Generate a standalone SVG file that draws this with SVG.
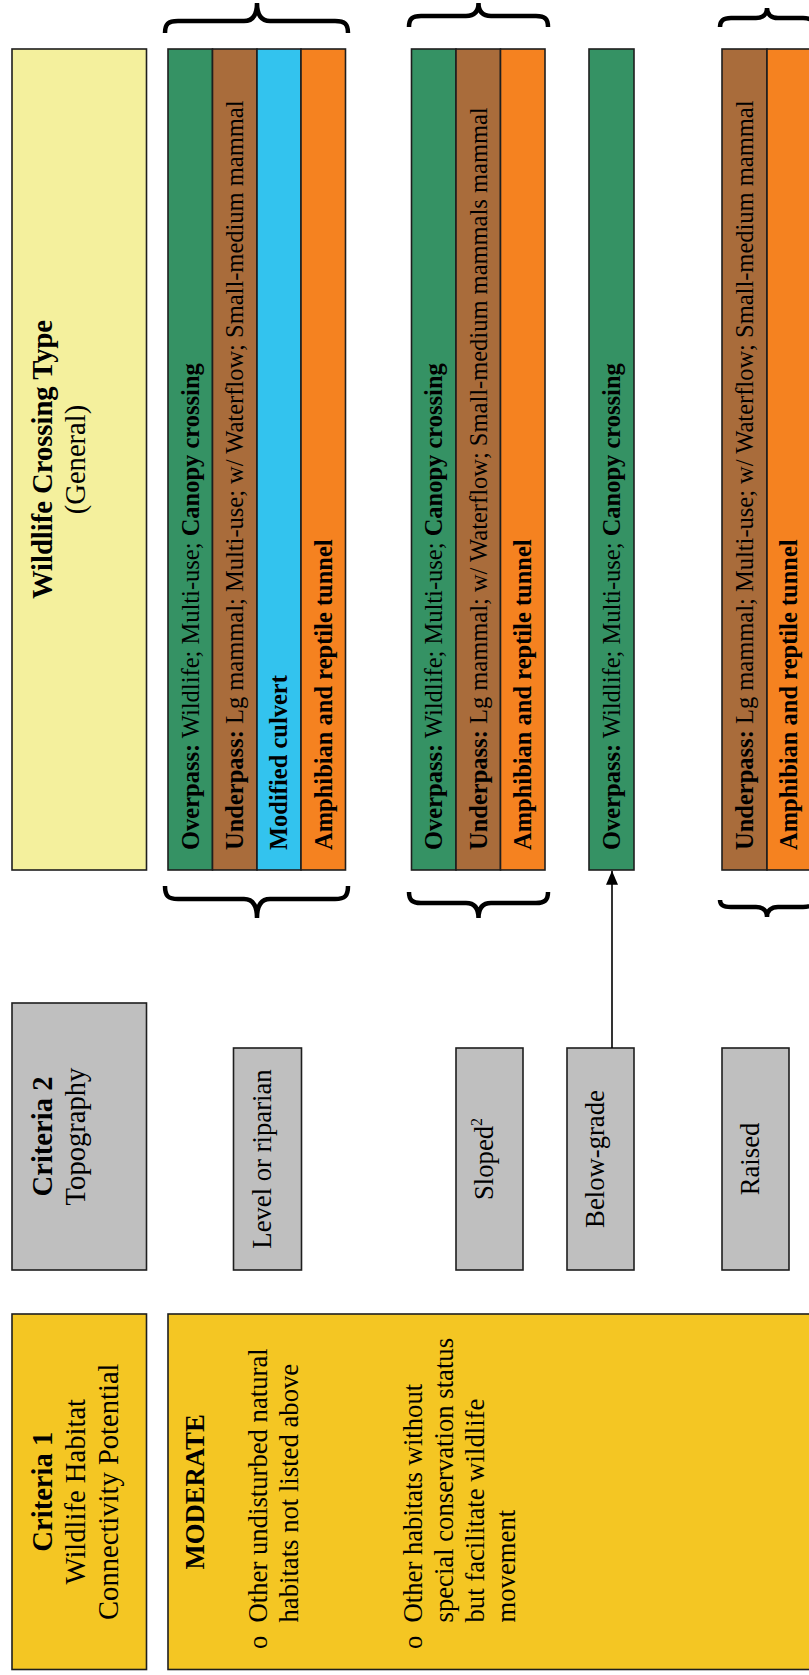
<svg xmlns="http://www.w3.org/2000/svg" width="809" height="1675" viewBox="0 0 809 1675">
<style>
text{font-family:"Liberation Serif","Times New Roman",serif;fill:#000}
.h{font-size:28.6px}
.c{font-size:24.5px}
.t{font-size:26.7px}
.b{font-weight:bold}
.box{stroke:#1e1e1e;stroke-width:1.6}
.title{fill:#F4F09D}
.gold{fill:#F4C623}
.gray{fill:#BFBFBF}
.green{fill:#359264}
.brown{fill:#A96C3B}
.blue{fill:#33C3EE}
.orange{fill:#F58220}
.brace{fill:none;stroke:#000;stroke-width:4.5}
</style>
<defs>
<marker id="ah" markerUnits="userSpaceOnUse" markerWidth="14" markerHeight="12" viewBox="0 0 14 12" refX="14" refY="6" orient="auto">
<path d="M0,0 L14,6 L0,12 z" fill="#000"/>
</marker>
</defs>
<rect width="809" height="1675" fill="#fff"/>

<g id="crossing-type-header">
<rect class="box title" x="12" y="49" width="134.5" height="821"/>
<text class="h b" text-anchor="middle" transform="translate(52,459.5) rotate(-90)">Wildlife Crossing Type</text>
<text class="h" text-anchor="middle" transform="translate(85,459.5) rotate(-90)">(General)</text>
</g>

<g id="group-level">
<rect class="box green" x="168" y="49" width="44.5" height="821"/>
<rect class="box brown" x="212.5" y="49" width="44.5" height="821"/>
<rect class="box blue" x="257" y="49" width="44" height="821"/>
<rect class="box orange" x="301" y="49" width="44.5" height="821"/>
<text class="c" transform="translate(198.5,850) rotate(-90)"><tspan class="b">Overpass:</tspan> Wildlife; Multi-use; <tspan class="b">Canopy crossing</tspan></text>
<text class="c" transform="translate(243,850) rotate(-90)"><tspan class="b">Underpass:</tspan> Lg mammal; Multi-use; w/ Waterflow; Small-medium mammal</text>
<text class="c b" transform="translate(287,850) rotate(-90)">Modified culvert</text>
<text class="c b" transform="translate(331.5,850) rotate(-90)">Amphibian and reptile tunnel</text>
</g>

<g id="group-sloped">
<rect class="box green" x="411.5" y="49" width="44.5" height="821"/>
<rect class="box brown" x="456" y="49" width="44.5" height="821"/>
<rect class="box orange" x="500.5" y="49" width="44.5" height="821"/>
<text class="c" transform="translate(442,850) rotate(-90)"><tspan class="b">Overpass:</tspan> Wildlife; Multi-use; <tspan class="b">Canopy crossing</tspan></text>
<text class="c" transform="translate(486.5,850) rotate(-90)"><tspan class="b">Underpass:</tspan> Lg mammal; w/ Waterflow; Small-medium mammals mammal</text>
<text class="c b" transform="translate(531,850) rotate(-90)">Amphibian and reptile tunnel</text>
</g>

<g id="group-below-grade">
<rect class="box green" x="589" y="49" width="45" height="821"/>
<text class="c" transform="translate(619.5,850) rotate(-90)"><tspan class="b">Overpass:</tspan> Wildlife; Multi-use; <tspan class="b">Canopy crossing</tspan></text>
</g>

<g id="group-raised">
<rect class="box brown" x="722" y="49" width="45" height="821"/>
<rect class="box orange" x="767" y="49" width="45" height="821"/>
<text class="c" transform="translate(752.5,850) rotate(-90)"><tspan class="b">Underpass:</tspan> Lg mammal; Multi-use; w/ Waterflow; Small-medium mammal</text>
<text class="c b" transform="translate(797,850) rotate(-90)">Amphibian and reptile tunnel</text>
</g>

<g id="braces">
<path class="brace" d="M165,33 C165,24 168,21 178,21 L244,21 C252,21 257,16 257,3 C257,16 262,21 270,21 L335,21 C345,21 348,24 348,33"/>
<path class="brace" d="M409,27 C409,19 412,16 421,16 L466,16 C474,16 478.5,12 478.5,3 C478.5,12 483,16 491,16 L536,16 C545,16 548,19 548,27"/>
<path class="brace" d="M720,27 C720,21 723,18 731,18 L756,18 C763,18 767,14 767,8 C767,14 771,18 778,18 L803,18 C811,18 814,21 814,27"/>
<path class="brace" d="M165,886 C165,896 168,899 178,899 L244,899 C252,899 257,904 257,918 C257,904 262,899 270,899 L335,899 C345,899 348,896 348,886"/>
<path class="brace" d="M409,892 C409,900 412,903 421,903 L466,903 C474,903 478.5,908 478.5,918 C478.5,908 483,903 491,903 L536,903 C545,903 548,900 548,892"/>
<path class="brace" d="M720,900 C720,905 723,907 731,907 L756,907 C763,907 767,911 767,917 C767,911 771,907 778,907 L803,907 C811,907 814,905 814,900"/>
</g>

<g id="topography-header">
<rect class="box gray" x="12" y="1003" width="134.5" height="267"/>
<text class="h b" text-anchor="middle" transform="translate(52,1136.5) rotate(-90)">Criteria 2</text>
<text class="h" text-anchor="middle" transform="translate(85,1136.5) rotate(-90)">Topography</text>
</g>

<g id="topo-level">
<rect class="box gray" x="233.5" y="1048" width="68" height="222"/>
<text class="t" text-anchor="middle" transform="translate(271,1159) rotate(-90)">Level or riparian</text>
</g>

<g id="topo-sloped">
<rect class="box gray" x="456" y="1048" width="67" height="222"/>
<text class="t" text-anchor="middle" transform="translate(493,1159) rotate(-90)">Sloped<tspan font-size="16" dy="-11">2</tspan></text>
</g>

<g id="topo-below-grade">
<rect class="box gray" x="567" y="1048" width="67" height="222"/>
<text class="t" text-anchor="middle" transform="translate(604,1159) rotate(-90)">Below-grade</text>
</g>

<g id="topo-raised">
<rect class="box gray" x="722" y="1048" width="67" height="222"/>
<text class="t" text-anchor="middle" transform="translate(759,1159) rotate(-90)">Raised</text>
</g>

<g id="habitat-header">
<rect class="box gold" x="12" y="1314" width="134.5" height="355.5"/>
<text class="h b" text-anchor="middle" transform="translate(52,1491.7) rotate(-90)">Criteria 1</text>
<text class="h" text-anchor="middle" transform="translate(85,1491.7) rotate(-90)">Wildlife Habitat</text>
<text class="h" text-anchor="middle" transform="translate(118,1491.7) rotate(-90)">Connectivity Potential</text>
</g>

<g id="habitat-moderate">
<rect class="box gold" x="168" y="1314" width="650" height="355.5"/>
<text class="t b" transform="translate(204,1569.5) rotate(-90)">MODERATE</text>
<text class="t" transform="translate(267,1649) rotate(-90)">o</text>
<text class="t" transform="translate(267,1622.5) rotate(-90)">Other undisturbed natural</text>
<text class="t" transform="translate(298,1622.5) rotate(-90)">habitats not listed above</text>
<text class="t" transform="translate(422,1649) rotate(-90)">o</text>
<text class="t" transform="translate(422,1622.5) rotate(-90)">Other habitats without</text>
<text class="t" transform="translate(453,1622.5) rotate(-90)">special conservation status</text>
<text class="t" transform="translate(484,1622.5) rotate(-90)">but facilitate wildlife</text>
<text class="t" transform="translate(515,1622.5) rotate(-90)">movement</text>
</g>

<g id="connectors">
<line x1="612" y1="1048" x2="612" y2="870.8" stroke="#000" stroke-width="1.6" marker-end="url(#ah)"/>
</g>
</svg>
